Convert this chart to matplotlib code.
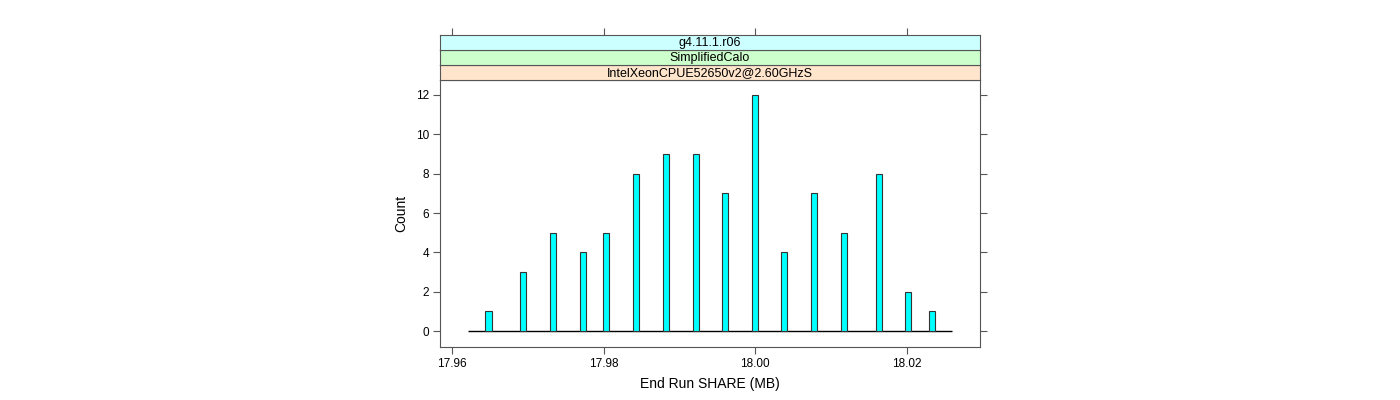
import matplotlib
matplotlib.use("Agg")
import matplotlib.pyplot as plt

# data
bar_x = [17.9648, 17.9694, 17.9733, 17.9773, 17.9803, 17.9843, 17.9883, 17.9922,
         17.9960, 18.0000, 18.0038, 18.0078, 18.0117, 18.0164, 18.0202, 18.0234]
counts = [1, 3, 5, 4, 5, 8, 9, 9, 7, 12, 4, 7, 5, 8, 2, 1]
range_lo, range_hi = 17.9621, 18.0260
x_ticks = [17.96, 17.98, 18.00, 18.02]
x_tick_labels = ["17.96", "17.98", "18.00", "18.02"]
y_ticks = [0, 2, 4, 6, 8, 10, 12]
strips = ["IntelXeonCPUE52650v2@2.60GHzS", "SimplifiedCalo", "g4.11.1.r06"]
strip_colors = ["#FFE5CC", "#CCFFCC", "#CCFFFF"]

plt.rcParams['font.family'] = ['Liberation Sans', 'DejaVu Sans']
plt.rcParams['font.size'] = 8.5

frame_col = "#555555"

fig = plt.figure(figsize=(14, 4), dpi=100)
left, width = 440 / 1400, 540 / 1400
ax = fig.add_axes([left, 53 / 400, width, 267 / 400])

ax.hlines(0, range_lo, range_hi, color="black", lw=1, zorder=2)
ax.bar(bar_x, counts, width=0.0008, color="#00FFFF", edgecolor="#333333",
       linewidth=0.8, zorder=3)

ax.set_xlim(17.9584, 18.0297)
ax.set_ylim(-0.81, 12.76)
ax.set_xticks(x_ticks)
ax.set_xticklabels(x_tick_labels)
ax.set_yticks(y_ticks)
ax.tick_params(direction="out", length=5, color=frame_col, width=0.8,
               right=True, labelright=False, pad=3)
for s in ax.spines.values():
    s.set_color(frame_col)
    s.set_linewidth(0.8)
ax.set_xlabel("End Run SHARE (MB)", fontsize=10, labelpad=5)
ax.set_ylabel("Count", fontsize=10, labelpad=5)

# lattice style strips above the panel
strip_h = 15 / 400
for i, (txt, col) in enumerate(zip(strips, strip_colors)):
    sax = fig.add_axes([left, 320 / 400 + i * strip_h, width, strip_h], sharex=ax)
    sax.set_facecolor(col)
    sax.set_yticks([])
    sax.tick_params(bottom=False, labelbottom=False)
    for s in sax.spines.values():
        s.set_color(frame_col)
        s.set_linewidth(0.8)
    sax.text(0.5, 0.45, txt, transform=sax.transAxes, ha="center", va="center",
             fontsize=9)
    if i == len(strips) - 1:
        sax.tick_params(top=True, direction="out", length=5, color=frame_col,
                        width=0.8, labeltop=False)

fig.savefig("out.png", dpi=100)
